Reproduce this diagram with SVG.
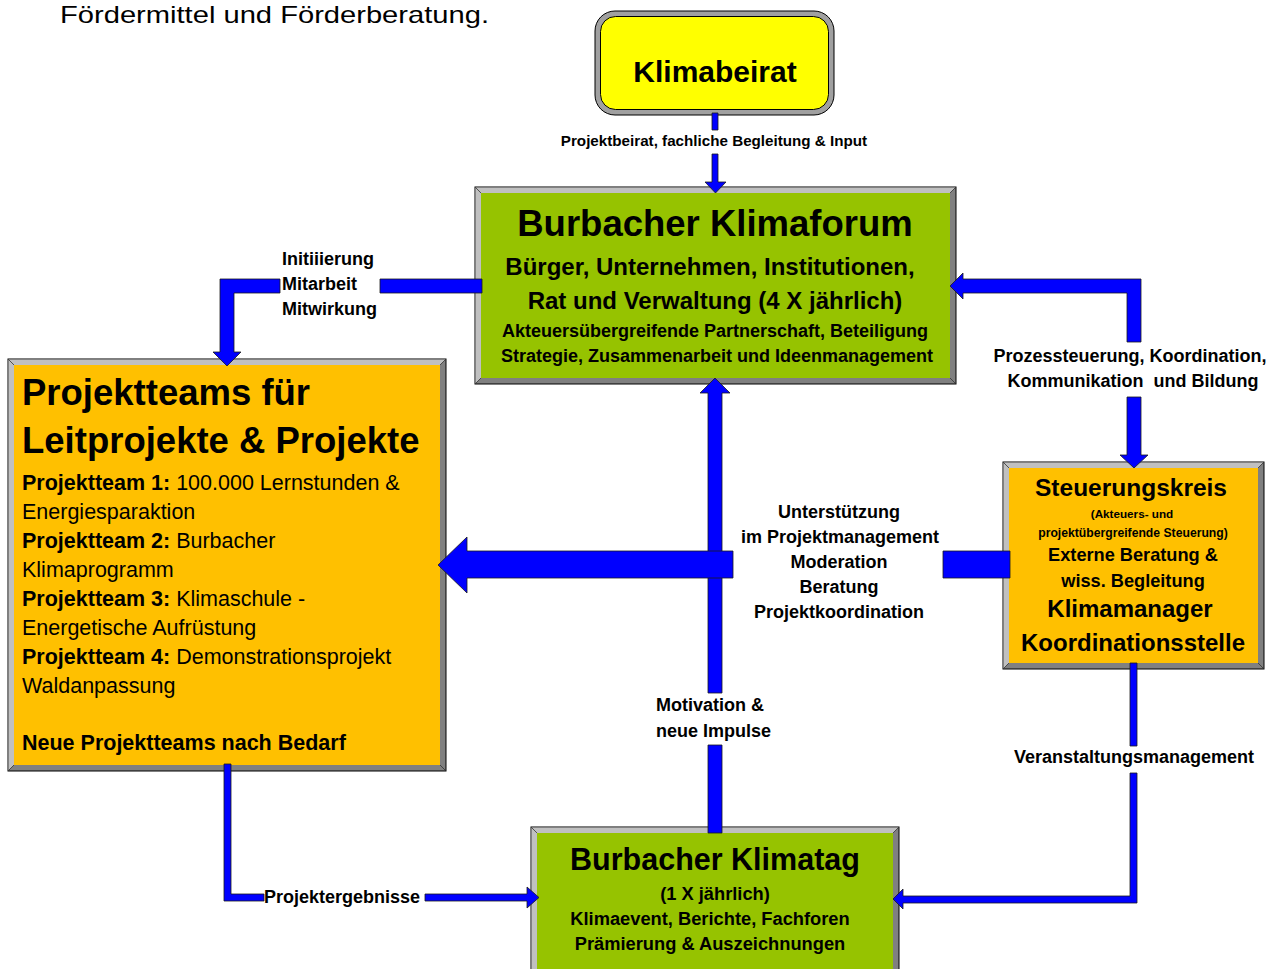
<svg xmlns="http://www.w3.org/2000/svg" width="1279" height="969" viewBox="0 0 1279 969">
<style>
.t{font-family:"Liberation Sans",Arial,sans-serif;fill:#000}
.b{font-weight:bold}
.m{text-anchor:middle}
.conn{fill:#0000FF;stroke:#1a1a1a;stroke-width:0.8}
.dk{fill:#808080;stroke:#000;stroke-width:1}
.lt{fill:#C0C0C0}
.dg{stroke:#333;stroke-width:0.8;fill:none}
.green{fill:#96C300}
.orange{fill:#FFC000}
</style>
<rect width="1279" height="969" fill="#fff"/>
<text class="t" x="60" y="23" font-size="24" textLength="429" lengthAdjust="spacingAndGlyphs">Fördermittel und Förderberatung.</text>

<g id="klimabeirat">
<rect x="595" y="11" width="239" height="104" rx="20" fill="#A0A0A0" stroke="#000" stroke-width="1"/>
<rect x="600.5" y="16.5" width="228" height="93" rx="15" fill="#FFFF00" stroke="#000" stroke-width="1"/>
<text class="t b m" x="715" y="82" font-size="30">Klimabeirat</text>
</g>

<g id="klimaforum">
<rect class="dk" x="475" y="187" width="481" height="197"/>
<polygon class="lt" points="475.5,187.5 955.5,187.5 950,193 481,193 481,378 475.5,383.5"/>
<rect class="green" x="481" y="193" width="469" height="185"/>
<path class="dg" d="M475.5,187.5L481,193M955.5,187.5L950,193M475.5,383.5L481,378M955.5,383.5L950,378"/>
<text class="t b m" x="715" y="236" font-size="36.5">Burbacher Klimaforum</text>
<text class="t b m" x="710" y="275" font-size="24">Bürger, Unternehmen, Institutionen,</text>
<text class="t b m" x="715" y="309" font-size="24">Rat und Verwaltung (4 X jährlich)</text>
<text class="t b m" x="715" y="337" font-size="18">Akteuersübergreifende Partnerschaft, Beteiligung</text>
<text class="t b m" x="717" y="362" font-size="18">Strategie, Zusammenarbeit und Ideenmanagement</text>
</g>

<g id="projektteams">
<rect class="dk" x="8" y="359" width="438" height="412"/>
<polygon class="lt" points="8.5,359.5 445.5,359.5 440,365 14,365 14,765 8.5,770.5"/>
<rect class="orange" x="14" y="365" width="426" height="400"/>
<path class="dg" d="M8.5,359.5L14,365M445.5,359.5L440,365M8.5,770.5L14,765M445.5,770.5L440,765"/>
<text class="t b" x="22" y="405" font-size="36.5">Projektteams für</text>
<text class="t b" x="22" y="453" font-size="36.5">Leitprojekte &amp; Projekte</text>
<g font-size="21.5">
<text class="t" x="22" y="490"><tspan class="b">Projektteam 1:</tspan> 100.000 Lernstunden &amp;</text>
<text class="t" x="22" y="519">Energiesparaktion</text>
<text class="t" x="22" y="548"><tspan class="b">Projektteam 2:</tspan> Burbacher</text>
<text class="t" x="22" y="577">Klimaprogramm</text>
<text class="t" x="22" y="606"><tspan class="b">Projektteam 3:</tspan> Klimaschule -</text>
<text class="t" x="22" y="635">Energetische Aufrüstung</text>
<text class="t" x="22" y="664"><tspan class="b">Projektteam 4:</tspan> Demonstrationsprojekt</text>
<text class="t" x="22" y="693">Waldanpassung</text>
<text class="t b" x="22" y="750">Neue Projektteams nach Bedarf</text>
</g>
</g>

<g id="steuerungskreis">
<rect class="dk" x="1003" y="462" width="261" height="207"/>
<polygon class="lt" points="1003.5,462.5 1263.5,462.5 1258,468 1009,468 1009,663 1003.5,668.5"/>
<rect class="orange" x="1009" y="468" width="249" height="195"/>
<path class="dg" d="M1003.5,462.5L1009,468M1263.5,462.5L1258,468M1003.5,668.5L1009,663M1263.5,668.5L1258,663"/>
<text class="t b m" x="1131" y="496" font-size="24.5">Steuerungskreis</text>
<text class="t b m" x="1132" y="518" font-size="11.7">(Akteuers- und</text>
<text class="t b m" x="1133" y="537" font-size="12.2">projektübergreifende Steuerung)</text>
<text class="t b m" x="1133" y="561" font-size="18.2">Externe Beratung &amp;</text>
<text class="t b m" x="1133" y="587" font-size="18.2">wiss. Begleitung</text>
<text class="t b m" x="1130" y="617" font-size="24">Klimamanager</text>
<text class="t b m" x="1133" y="651" font-size="24">Koordinationsstelle</text>
</g>

<g id="klimatag">
<rect class="dk" x="531" y="827" width="368" height="160"/>
<polygon class="lt" points="531.5,827.5 898.5,827.5 893,833 537,833 537,987 531.5,987"/>
<rect class="green" x="537" y="833" width="356" height="154"/>
<path class="dg" d="M531.5,827.5L537,833M898.5,827.5L893,833"/>
<text class="t b m" x="715" y="870" font-size="30.5">Burbacher Klimatag</text>
<text class="t b m" x="715" y="900" font-size="18.3">(1 X jährlich)</text>
<text class="t b m" x="710" y="925" font-size="18.3">Klimaevent, Berichte, Fachforen</text>
<text class="t b m" x="710" y="950" font-size="18.3">Prämierung &amp; Auszeichnungen</text>
</g>

<g id="connectors">
<polygon class="conn" points="712,113 718,113 718,130 712,130"/>
<polygon class="conn" points="712,154 718,154 718,182 726,182 715.5,193 705,182 712,182"/>

<polygon class="conn" points="380,279 482,279 482,293 380,293"/>
<polygon class="conn" points="280,279 220,279 220,352 213,352 227,366 241,352 234,352 234,293 280,293"/>

<polygon class="conn" points="1127,342 1127,293 963,293 963,299 950,286 963,273 963,279 1141,279 1141,342"/>
<polygon class="conn" points="1127,397 1141,397 1141,455 1148,455 1134,468 1120,455 1127,455"/>

<polygon class="conn" points="708,745 722,745 722,833 708,833"/>
<polygon class="conn" points="708,693 708,393 700,393 715,378 730,393 722,393 722,693"/>
<polygon class="conn" points="733,551 467,551 467,537 438,565 467,593 467,578 733,578"/>
<polygon class="conn" points="943,551 1010,551 1010,578 943,578"/>

<polygon class="conn" points="224,764 231,764 231,894 264,894 264,901 224,901"/>
<polygon class="conn" points="425,894 527,894 527,887 539,897.5 527,908 527,901 425,901"/>

<polygon class="conn" points="1130,663 1137,663 1137,746 1130,746"/>
<polygon class="conn" points="1130,773 1137,773 1137,903 903,903 903,909 893,899 903,889 903,896 1130,896"/>
</g>

<g id="labels" font-size="18">
<text class="t b m" x="714" y="146" font-size="15.2">Projektbeirat, fachliche Begleitung &amp; Input</text>
<text class="t b" x="282" y="265">Initiiierung</text>
<text class="t b" x="282" y="290">Mitarbeit</text>
<text class="t b" x="282" y="315">Mitwirkung</text>
<text class="t b m" x="1130" y="362">Prozessteuerung, Koordination,</text>
<text class="t b m" x="1133" y="387" xml:space="preserve">Kommunikation  und Bildung</text>
<text class="t b m" x="839" y="518">Unterstützung</text>
<text class="t b m" x="840" y="543">im Projektmanagement</text>
<text class="t b m" x="839" y="568">Moderation</text>
<text class="t b m" x="839" y="593">Beratung</text>
<text class="t b m" x="839" y="618">Projektkoordination</text>
<text class="t b" x="656" y="711">Motivation &amp;</text>
<text class="t b" x="656" y="737">neue Impulse</text>
<text class="t b m" x="1134" y="763">Veranstaltungsmanagement</text>
<text class="t b" x="264" y="903">Projektergebnisse</text>
</g>
</svg>
